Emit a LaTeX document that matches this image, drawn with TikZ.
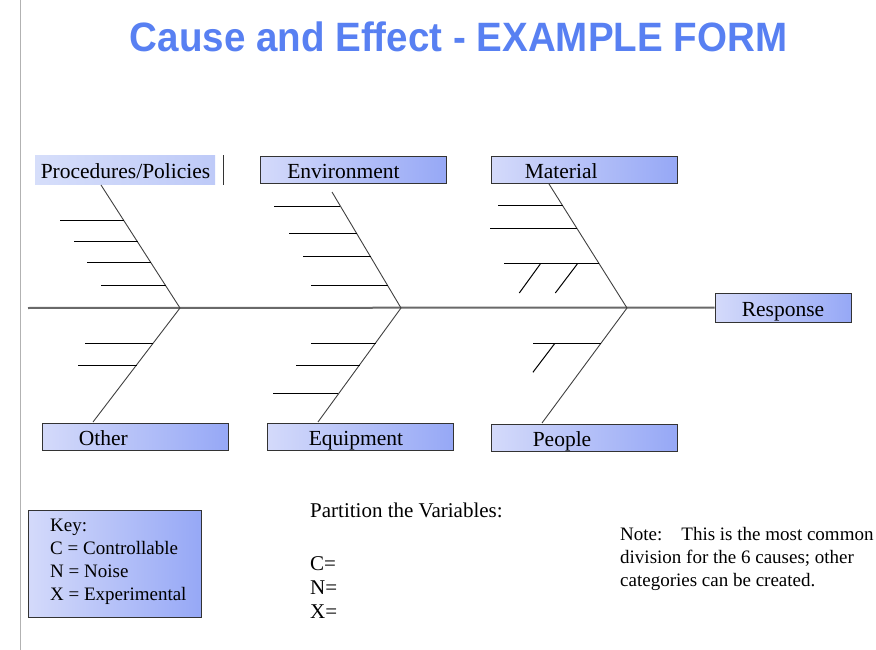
\documentclass[tikz,border=0pt]{standalone}
\usepackage{fontspec}
\setmainfont{Liberation Serif}
\newfontfamily\headfont{Liberation Sans}
\usepackage{xcolor}
\usepackage{tikz}
\usetikzlibrary{positioning, calc}
\definecolor{titleblue}{RGB}{88,128,242}
\definecolor{boxlight}{RGB}{212,218,250}
\definecolor{boxdark}{RGB}{150,168,246}
\definecolor{proclight}{RGB}{214,222,250}
\definecolor{procdark}{RGB}{190,202,248}
\definecolor{spinegray}{RGB}{105,105,105}

\begin{document}
\begin{tikzpicture}[x=1pt, y=-1pt, catbox/.style={rectangle, draw=black!80, line width=0.9pt, left color=boxlight, right color=boxdark, minimum width=186pt, minimum height=27pt, inner sep=0pt}, cattext/.style={inner sep=0pt, text height=17pt, text depth=0pt, font=\fontsize{21.5}{24}\selectfont}, notetext/.style={inner sep=0pt, align=left, font=\fontsize{19}{23}\selectfont}, bone/.style={draw=black!75, line width=0.9pt}, rib/.style={draw=black, line width=1pt}, spine/.style={draw=spinegray, line width=2pt}]
    
    \useasboundingbox (0,0) rectangle (876,650);
    \draw[black!30, line width=0.8pt] (20,0) -- (20,650);
    
    %Title
    \node[text=titleblue, anchor=base, font=\headfont\bfseries\fontsize{41}{41}\selectfont](title) at (458.5,52){\scalebox{0.94}[1]{Cause and Effect - EXAMPLE FORM}};
    
    %Boxes
    \node[catbox, draw=none, left color=proclight, right color=procdark, minimum width=180pt, minimum height=29pt](proc) at (125,170){};
    \node[catbox](env) at (353.5,170){};
    \node[catbox](mat) at (584,170){};
    \node[catbox](other) at (135,436.5){};
    \node[catbox](equip) at (360,436.5){};
    \node[catbox](people) at (584,437.5){};
    \node[catbox, cattext, minimum width=136pt, minimum height=29pt](resp) at (783,307.5){Response};
    \node[cattext](proctxt)[right=6pt of proc.west]{Procedures/Policies};
    \node[cattext](envtxt)[right=27pt of env.west]{Environment};
    \node[cattext](mattxt)[right=34pt of mat.west]{Material};
    \node[cattext](othertxt)[right=37pt of other.west]{Other};
    \node[cattext](equiptxt)[right=42pt of equip.west]{Equipment};
    \node[cattext](peopletxt)[right=42pt of people.west]{People};
    \draw[black!80, line width=0.9pt] ([xshift=8pt]proc.north east) -- ([xshift=8pt]proc.south east);
    
    %Key and notes
    \node[catbox, minimum width=173pt, minimum height=107pt](keybox) at (114.5,563.5){};
    \node[notetext, anchor=north west](keytxt) at (50,519){Key:\\C = Controllable\\N = Noise\\X = Experimental};
    \node[notetext, anchor=north west, font=\fontsize{21}{24}\selectfont](partition) at (310,503){Partition the Variables:\\[29pt]C=\\N=\\X=};
    \node[notetext, anchor=north west](note) at (620,527){Note:\hspace{19pt}This is the most common\\division for the 6 causes; other\\categories can be created.};
    
    %Junctions and bone ends
    \coordinate (tail) at (28,308);
    \coordinate (j1) at (180,308);
    \coordinate (j2) at (401,308);
    \coordinate (j3) at (627,308);
    \coordinate (p1) at (101,185);
    \coordinate (o1) at (93,422);
    \coordinate (e1) at (332,192);
    \coordinate (q1) at (318,422);
    \coordinate (m1) at (549,184);
    \coordinate (pp1) at (542,423);
    
    %Lines
    \draw[spine] (tail) -- (resp.west);
    \draw[bone] (j1) -- (p1);
    \draw[bone] (j1) -- (o1);
    \draw[bone] (j2) -- (e1);
    \draw[bone] (j2) -- (q1);
    \draw[bone] (j3) -- (m1);
    \draw[bone] (j3) -- (pp1);
    
    %Ribs
    \draw[rib] ($(j1)!0.715!(p1)$) -- ++(-64,0);
    \draw[rib] ($(j1)!0.537!(p1)$) -- ++(-64,0);
    \draw[rib] ($(j1)!0.366!(p1)$) -- ++(-64,0);
    \draw[rib] ($(j1)!0.179!(p1)$) -- ++(-65,0);
    \draw[rib] ($(j1)!0.307!(o1)$) -- ++(-68,0);
    \draw[rib] ($(j1)!0.5!(o1)$) -- ++(-59,0);
    \draw[rib] ($(j2)!0.879!(e1)$) -- ++(-66,0);
    \draw[rib] ($(j2)!0.638!(e1)$) -- ++(-68,0);
    \draw[rib] ($(j2)!0.44!(e1)$) -- ++(-68,0);
    \draw[rib] ($(j2)!0.19!(e1)$) -- ++(-77,0);
    \draw[rib] ($(j2)!0.307!(q1)$) -- ++(-65,0);
    \draw[rib] ($(j2)!0.5!(q1)$) -- ++(-64,0);
    \draw[rib] ($(j2)!0.754!(q1)$) -- ++(-65,0);
    \draw[rib] ($(j3)!0.823!(m1)$) -- ++(-65,0);
    \draw[rib] ($(j3)!0.645!(m1)$) -- ++(-87,0);
    \draw[rib] ($(j3)!0.355!(m1)$) coordinate (ma3) -- ++(-95,0);
    \draw[rib] ([xshift=-59pt]ma3) -- ++(-21,29);
    \draw[rib] ([xshift=-22pt]ma3) -- ++(-22,29);
    \draw[rib] ($(j3)!0.307!(pp1)$) coordinate (pe1) -- ++(-68,0);
    \draw[rib] ([xshift=-46pt]pe1) -- ++(-22,29);
    
    \end{tikzpicture}
\end{document}
